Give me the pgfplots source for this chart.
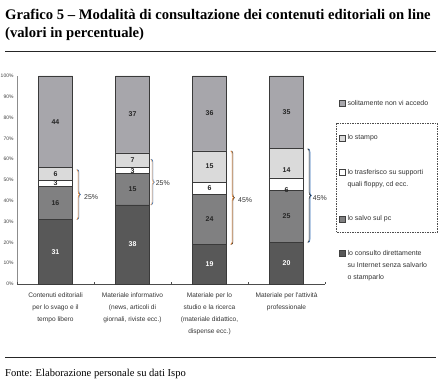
\documentclass[border=0pt]{standalone}
\usepackage{pgfplots}
\pgfplotsset{compat=1.18}
\usepackage{pgfplotstable}
\usepackage{fontspec}
\setmainfont{Liberation Serif}
\newfontfamily\arial{Liberation Sans}
\usetikzlibrary{decorations.pathreplacing}
\definecolor{cTop}{HTML}{A7A6AB}
\definecolor{cStampo}{HTML}{DADADA}
\definecolor{cTrasf}{HTML}{FFFFFF}
\definecolor{cSalvo}{HTML}{808081}
\definecolor{cCons}{HTML}{585858}
\definecolor{cEdge}{HTML}{3A3A3A}
\definecolor{bOrange}{HTML}{E07B24}
\definecolor{bBlue}{HTML}{2F6DB5}

\pgfplotstableread{
x consulto salvo trasf stampo non
0 31 16 3 6 44
1 38 15 3 7 37
2 19 24 6 15 36
3 20 25 6 14 35
}\data
\pgfplotstableread{
x y lab
0 15.5 31
1 19 38
2 9.5 19
3 10 20
}\labW
\pgfplotstableread{
x y lab
0 39 16
0 48.5 3
0 53 6
0 78 44
1 45.5 15
1 54.5 3
1 59.5 7
1 81.5 37
2 31 24
2 46 6
2 56.5 15
2 82 36
3 32.5 25
3 45 6
3 55 14
3 82.5 35
}\labD
\pgfplotstableread{
x y lab
0.37 42 25
1.30 48.5 25
2.37 40.5 45
3.34 41.5 45
}\labB

\pgfplotsset{
  sq/.style={legend image code/.code={\draw[##1, draw=black!75, line width=0.5bp] (0bp,-3bp) rectangle (6bp,3bp);}},
  sqB/.style={legend image code/.code={\draw[##1, draw=black!75, line width=0.5bp] (0bp,3bp) rectangle (6bp,9bp);}},
  sqC/.style={legend image code/.code={\draw[##1, draw=black!75, line width=0.5bp] (0bp,9bp) rectangle (6bp,15bp);}},
  lbl/.style={only marks, mark=none, point meta=explicit symbolic, nodes near coords},
}

\begin{document}
\begin{tikzpicture}[x=1bp,y=1bp]
\path[use as bounding box] (0,0) rectangle (440,387);
\coordinate (A) at (17,103);
\node[anchor=base west, inner sep=0, font=\bfseries\fontsize{14.7}{16}\selectfont] at (5,367.5) {Grafico 5 – Modalità di consultazione dei contenuti editoriali on line};
\node[anchor=base west, inner sep=0, font=\bfseries\fontsize{14.7}{16}\selectfont] at (5,350) {(valori in percentuale)};
\draw[line width=0.9bp, black!85] (5,336) -- (436,336);
\draw[line width=0.9bp, black!85] (5,30) -- (436,30);
\node[anchor=base west, inner sep=0, font=\fontsize{10.6}{12}\selectfont] at (5,11) {Fonte: Elaborazione personale su dati Ispo};

\begin{axis}[
  at={(A)}, anchor=south west,
  width=308bp, height=208bp, scale only axis,
  xmin=-0.5, xmax=3.5, ymin=0, ymax=100,
  ybar stacked, bar width=34bp,
  axis x line*=bottom, axis y line*=left,
  x axis line style={draw=black!70, line width=0.6bp, -},
  y axis line style={draw=black!45, line width=1bp, -},
  xtick={0,1,2,3},
  xticklabels={{Contenuti editoriali\\per lo svago e il\\tempo libero},{Materiale informativo\\(news, articoli di\\giornali, riviste ecc.)},{Materiale per lo\\studio e la ricerca\\(materiale didattico,\\dispense ecc.)},{Materiale per l'attività\\professionale}},
  x tick label style={align=center, font=\arial\fontsize{6.6}{12}\selectfont, text=black!80, yshift=-5bp},
  major x tick style={draw=none},
  extra x ticks={-0.5,0.5,1.5,2.5,3.5}, extra x tick labels={},
  extra x tick style={major tick length=2.5bp, tick align=inside, major x tick style={draw=black!70, line width=0.5bp}},
  ytick={0,10,...,100},
  yticklabel={\pgfmathprintnumber{\tick}\%},
  y tick label style={font=\arial\fontsize{5}{5}\selectfont, text=black!75},
  /pgf/number format/assume math mode=true,
  major y tick style={draw=none},
  legend style={at={(1.045,0.895)}, anchor=north west, draw=none, fill=none, font=\arial\fontsize{7}{12}\selectfont, text=black!80, row sep=24bp, inner sep=0pt},
  legend cell align=left,
  legend style={cells={align=left}},
  reverse legend,
]
\addplot[fill=cCons, draw=cEdge, line width=0.7bp, sqC] table[x=x,y=consulto]{\data};
\addlegendentry{lo consulto direttamente\\su Internet senza salvarlo\\o stamparlo}
\addplot[fill=cSalvo, draw=cEdge, line width=0.7bp, sq] table[x=x,y=salvo]{\data};
\addlegendentry{lo salvo sul pc}
\addplot[fill=cTrasf, draw=cEdge, line width=0.7bp, sqB] table[x=x,y=trasf]{\data};
\addlegendentry{lo trasferisco su supporti\\quali floppy, cd ecc.}
\addplot[fill=cStampo, draw=cEdge, line width=0.7bp, sq] table[x=x,y=stampo]{\data};
\addlegendentry{lo stampo}
\addplot[fill=cTop, draw=cEdge, line width=0.7bp, sq] table[x=x,y=non]{\data};
\addlegendentry{solitamente non vi accedo}
\end{axis}

\begin{axis}[
  at={(A)}, anchor=south west,
  width=308bp, height=208bp, scale only axis,
  xmin=-0.5, xmax=3.5, ymin=0, ymax=100,
  hide axis, clip=false,
]
\addplot[lbl, every node near coord/.style={anchor=center, inner sep=0pt, font=\arial\bfseries\fontsize{7}{8}\selectfont, text=white}] table[x=x,y=y,meta=lab]{\labW};
\addplot[lbl, every node near coord/.style={anchor=center, inner sep=0pt, font=\arial\bfseries\fontsize{7}{8}\selectfont, text=black!85}] table[x=x,y=y,meta=lab]{\labD};
\addplot[lbl, nodes near coords={\pgfplotspointmeta\%}, every node near coord/.style={anchor=west, inner sep=0pt, font=\arial\fontsize{7}{8}\selectfont, text=black!80}] table[x=x,y=y,meta=lab]{\labB};
% braces
\draw[bBlue, line width=0.6bp, decorate, decoration={brace, amplitude=3bp}] (axis cs:0.285,55) -- (axis cs:0.285,31);
\draw[bOrange, line width=0.6bp, decorate, decoration={brace, amplitude=3bp}] (axis cs:0.275,55) -- (axis cs:0.275,31);
\draw[bBlue, line width=0.6bp, decorate, decoration={brace, amplitude=3bp}] (axis cs:1.245,60) -- (axis cs:1.245,38);
\draw[bOrange!70, line width=0.5bp, decorate, decoration={brace, amplitude=3bp}] (axis cs:1.235,60) -- (axis cs:1.235,38);
\draw[black!80, line width=0.6bp, decorate, decoration={brace, amplitude=3bp}] (axis cs:2.285,64) -- (axis cs:2.285,19);
\draw[bOrange, line width=0.6bp, decorate, decoration={brace, amplitude=3bp}] (axis cs:2.275,64) -- (axis cs:2.275,19);
\draw[bBlue, line width=0.6bp, decorate, decoration={brace, amplitude=3bp}] (axis cs:3.285,65) -- (axis cs:3.285,20);
\draw[black!80, line width=0.6bp, decorate, decoration={brace, amplitude=3bp}] (axis cs:3.275,65) -- (axis cs:3.275,20);
\end{axis}
\draw[black!70, line width=0.5bp, dash pattern=on 1.5bp off 1bp] (336,264) rectangle (437,155);
\end{tikzpicture}
\end{document}
